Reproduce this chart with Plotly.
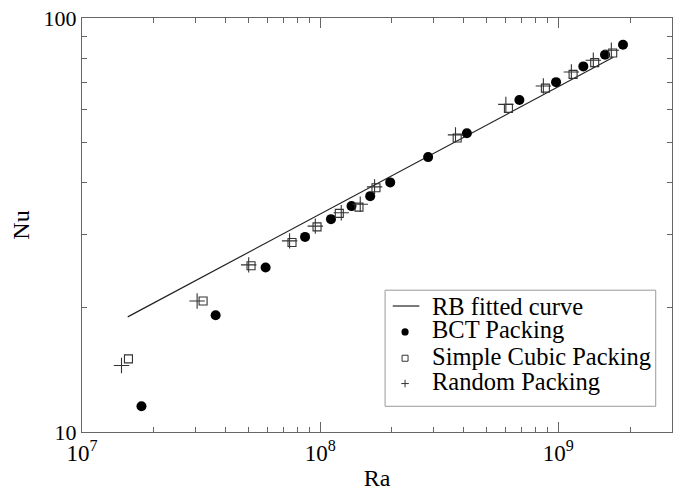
import math
import plotly.graph_objects as go

# RB fitted curve (end points of the straight fit line on log-log axes)
ra_fit = [1.556e7, 1.701e9]
nu_fit = [18.97, 80.35]

# BCT packing
ra_bct = [1.777e7, 3.64e7, 5.90e7, 8.64e7, 1.110e8, 1.354e8, 1.622e8, 1.968e8,
          2.84e8, 4.13e8, 6.86e8, 9.78e8, 1.273e9, 1.570e9, 1.868e9]
nu_bct = [11.54, 19.15, 24.97, 29.6, 32.67, 35.13, 37.13, 40.08,
          46.13, 52.7, 63.4, 70.0, 76.4, 81.5, 86.2]

# Simple cubic packing
ra_sc = [1.567e7, 3.224e7, 5.125e7, 7.615e7, 9.70e7, 1.203e8, 1.455e8, 1.715e8,
         3.76e8, 6.17e8, 8.82e8, 1.153e9, 1.421e9, 1.691e9]
nu_sc = [15.02, 20.73, 25.2, 28.7, 31.3, 33.73, 34.93, 38.9,
         51.3, 60.5, 67.7, 73.1, 78.0, 82.3]

# Random packing
ra_rnd = [1.465e7, 3.043e7, 5.01e7, 7.44e7, 9.54e7, 1.226e8, 1.473e8, 1.692e8,
          3.70e8, 6.02e8, 8.65e8, 1.134e9, 1.402e9, 1.669e9]
nu_rnd = [14.47, 20.73, 25.33, 28.95, 31.42, 33.84, 35.5, 39.1,
          52.2, 61.85, 68.5, 74.05, 79.05, 83.55]

series_names = ["RB fitted curve", "BCT Packing", "Simple Cubic Packing", "Random Packing"]

x_range = [1e7, 3e9]
y_range = [10, 100]
x_major = [1e7, 1e8, 1e9]
x_major_text = ["10<sup>7</sup>", "10<sup>8</sup>", "10<sup>9</sup>"]
x_minor = [2e7, 3e7, 4e7, 5e7, 6e7, 7e7, 8e7, 9e7,
           2e8, 3e8, 4e8, 5e8, 6e8, 7e8, 8e8, 9e8, 2e9]
y_major = [10, 100]
y_major_text = ["10", "100"]
y_minor = [20, 30, 40, 50, 60, 70, 80, 90]

FONT = "Times New Roman, Liberation Serif, DejaVu Serif, serif"
AX = "#666666"
MK = "#333333"

# figure geometry (the page body adds an 8px margin, so the figure is 8px smaller)
W, H = 680, 483
ML, MR, MT, MB = 73.5, 15.7, 10, 59.3
PW, PH = W - ML - MR, H - MT - MB


def px(xp):   # figure pixel x -> paper x
    return (xp - ML) / PW


def py(yp):   # figure pixel y -> paper y
    return (H - MB - yp) / PH


fig = go.Figure()
fig.add_trace(go.Scatter(x=ra_fit, y=nu_fit, mode="lines", name=series_names[0],
                         line=dict(color="#222222", width=1.2)))
fig.add_trace(go.Scatter(x=ra_bct, y=nu_bct, mode="markers", name=series_names[1],
                         marker=dict(symbol="circle", size=10, color="black")))
fig.add_trace(go.Scatter(x=ra_sc, y=nu_sc, mode="markers", name=series_names[2],
                         marker=dict(symbol="square-open", size=8, color=MK,
                                     line=dict(width=1.1))))
fig.add_trace(go.Scatter(x=ra_rnd, y=nu_rnd, mode="markers", name=series_names[3],
                         marker=dict(symbol="cross-thin-open", size=11, color=MK,
                                     line=dict(width=1.1, color=MK))))

# ---- hand-drawn legend key (compact like the reference) ----
shapes = []
annotations = []
bx0, by0, bx1, by1 = 377, 282, 648, 398          # box in figure pixels
shapes.append(dict(type="rect", xref="paper", yref="paper",
                   x0=px(bx0), x1=px(bx1), y0=py(by1), y1=py(by0),
                   line=dict(color="#999999", width=1), fillcolor="white", layer="above"))
sym_x = 397
text_x = 421.5
rows_y = [297.8, 321.2, 347.8, 372.8]
# line symbol
shapes.append(dict(type="line", xref="paper", yref="paper",
                   x0=px(384.7), x1=px(411.3), y0=py(rows_y[0]), y1=py(rows_y[0]),
                   line=dict(color="#222222", width=1.2), layer="above"))
# filled circle
r = 3.6
shapes.append(dict(type="circle", xref="paper", yref="paper",
                   x0=px(sym_x - r), x1=px(sym_x + r),
                   y0=py(rows_y[1] + 2.5 + r), y1=py(rows_y[1] + 2.5 - r),
                   line=dict(color="black", width=0), fillcolor="black", layer="above"))
# open square
s = 3.0
shapes.append(dict(type="rect", xref="paper", yref="paper",
                   x0=px(sym_x - s), x1=px(sym_x + s),
                   y0=py(rows_y[2] + 2.2 + s), y1=py(rows_y[2] + 2.2 - s),
                   line=dict(color=MK, width=1), fillcolor="rgba(0,0,0,0)", layer="above"))
# plus
p = 3.8
cy = rows_y[3] + 2.5
shapes.append(dict(type="line", xref="paper", yref="paper",
                   x0=px(sym_x - p), x1=px(sym_x + p), y0=py(cy), y1=py(cy),
                   line=dict(color=MK, width=1), layer="above"))
shapes.append(dict(type="line", xref="paper", yref="paper",
                   x0=px(sym_x), x1=px(sym_x), y0=py(cy - p), y1=py(cy + p),
                   line=dict(color=MK, width=1), layer="above"))
for name, ry in zip(series_names, rows_y):
    annotations.append(dict(text=name, xref="paper", yref="paper",
                            x=px(text_x), y=py(ry), xanchor="left", yanchor="middle",
                            showarrow=False, font=dict(family=FONT, size=24.5, color="black")))

fig.update_layout(
    width=W, height=H,
    margin=dict(l=ML, r=MR, t=MT, b=MB, autoexpand=False),
    paper_bgcolor="white", plot_bgcolor="white",
    font=dict(family=FONT, size=22, color="black"),
    showlegend=False,
    shapes=shapes, annotations=annotations,
)
fig.update_xaxes(
    type="log", range=[math.log10(v) for v in x_range], automargin=False,
    tickmode="array", tickvals=x_major, ticktext=x_major_text,
    ticks="inside", ticklen=10, tickcolor=AX, tickwidth=1,
    showline=True, linecolor=AX, linewidth=1, mirror="allticks",
    showgrid=False, zeroline=False, ticklabeloverflow="allow",
    minor=dict(tickmode="array", tickvals=x_minor, ticks="inside", ticklen=5,
               tickcolor=AX, showgrid=False),
    tickfont=dict(family=FONT, size=23),
    title=dict(text="Ra", font=dict(family=FONT, size=24), standoff=4),
)
fig.update_yaxes(
    type="log", range=[math.log10(v) for v in y_range], automargin=False,
    tickmode="array", tickvals=y_major, ticktext=y_major_text,
    ticks="inside", ticklen=10, tickcolor=AX, tickwidth=1,
    showline=True, linecolor=AX, linewidth=1, mirror="allticks",
    showgrid=False, zeroline=False, ticklabeloverflow="allow",
    minor=dict(tickmode="array", tickvals=y_minor, ticks="inside", ticklen=5,
               tickcolor=AX, showgrid=False),
    tickfont=dict(family=FONT, size=22),
    title=dict(text="Nu", font=dict(family=FONT, size=24), standoff=9),
)

fig.write_html("out.html")
